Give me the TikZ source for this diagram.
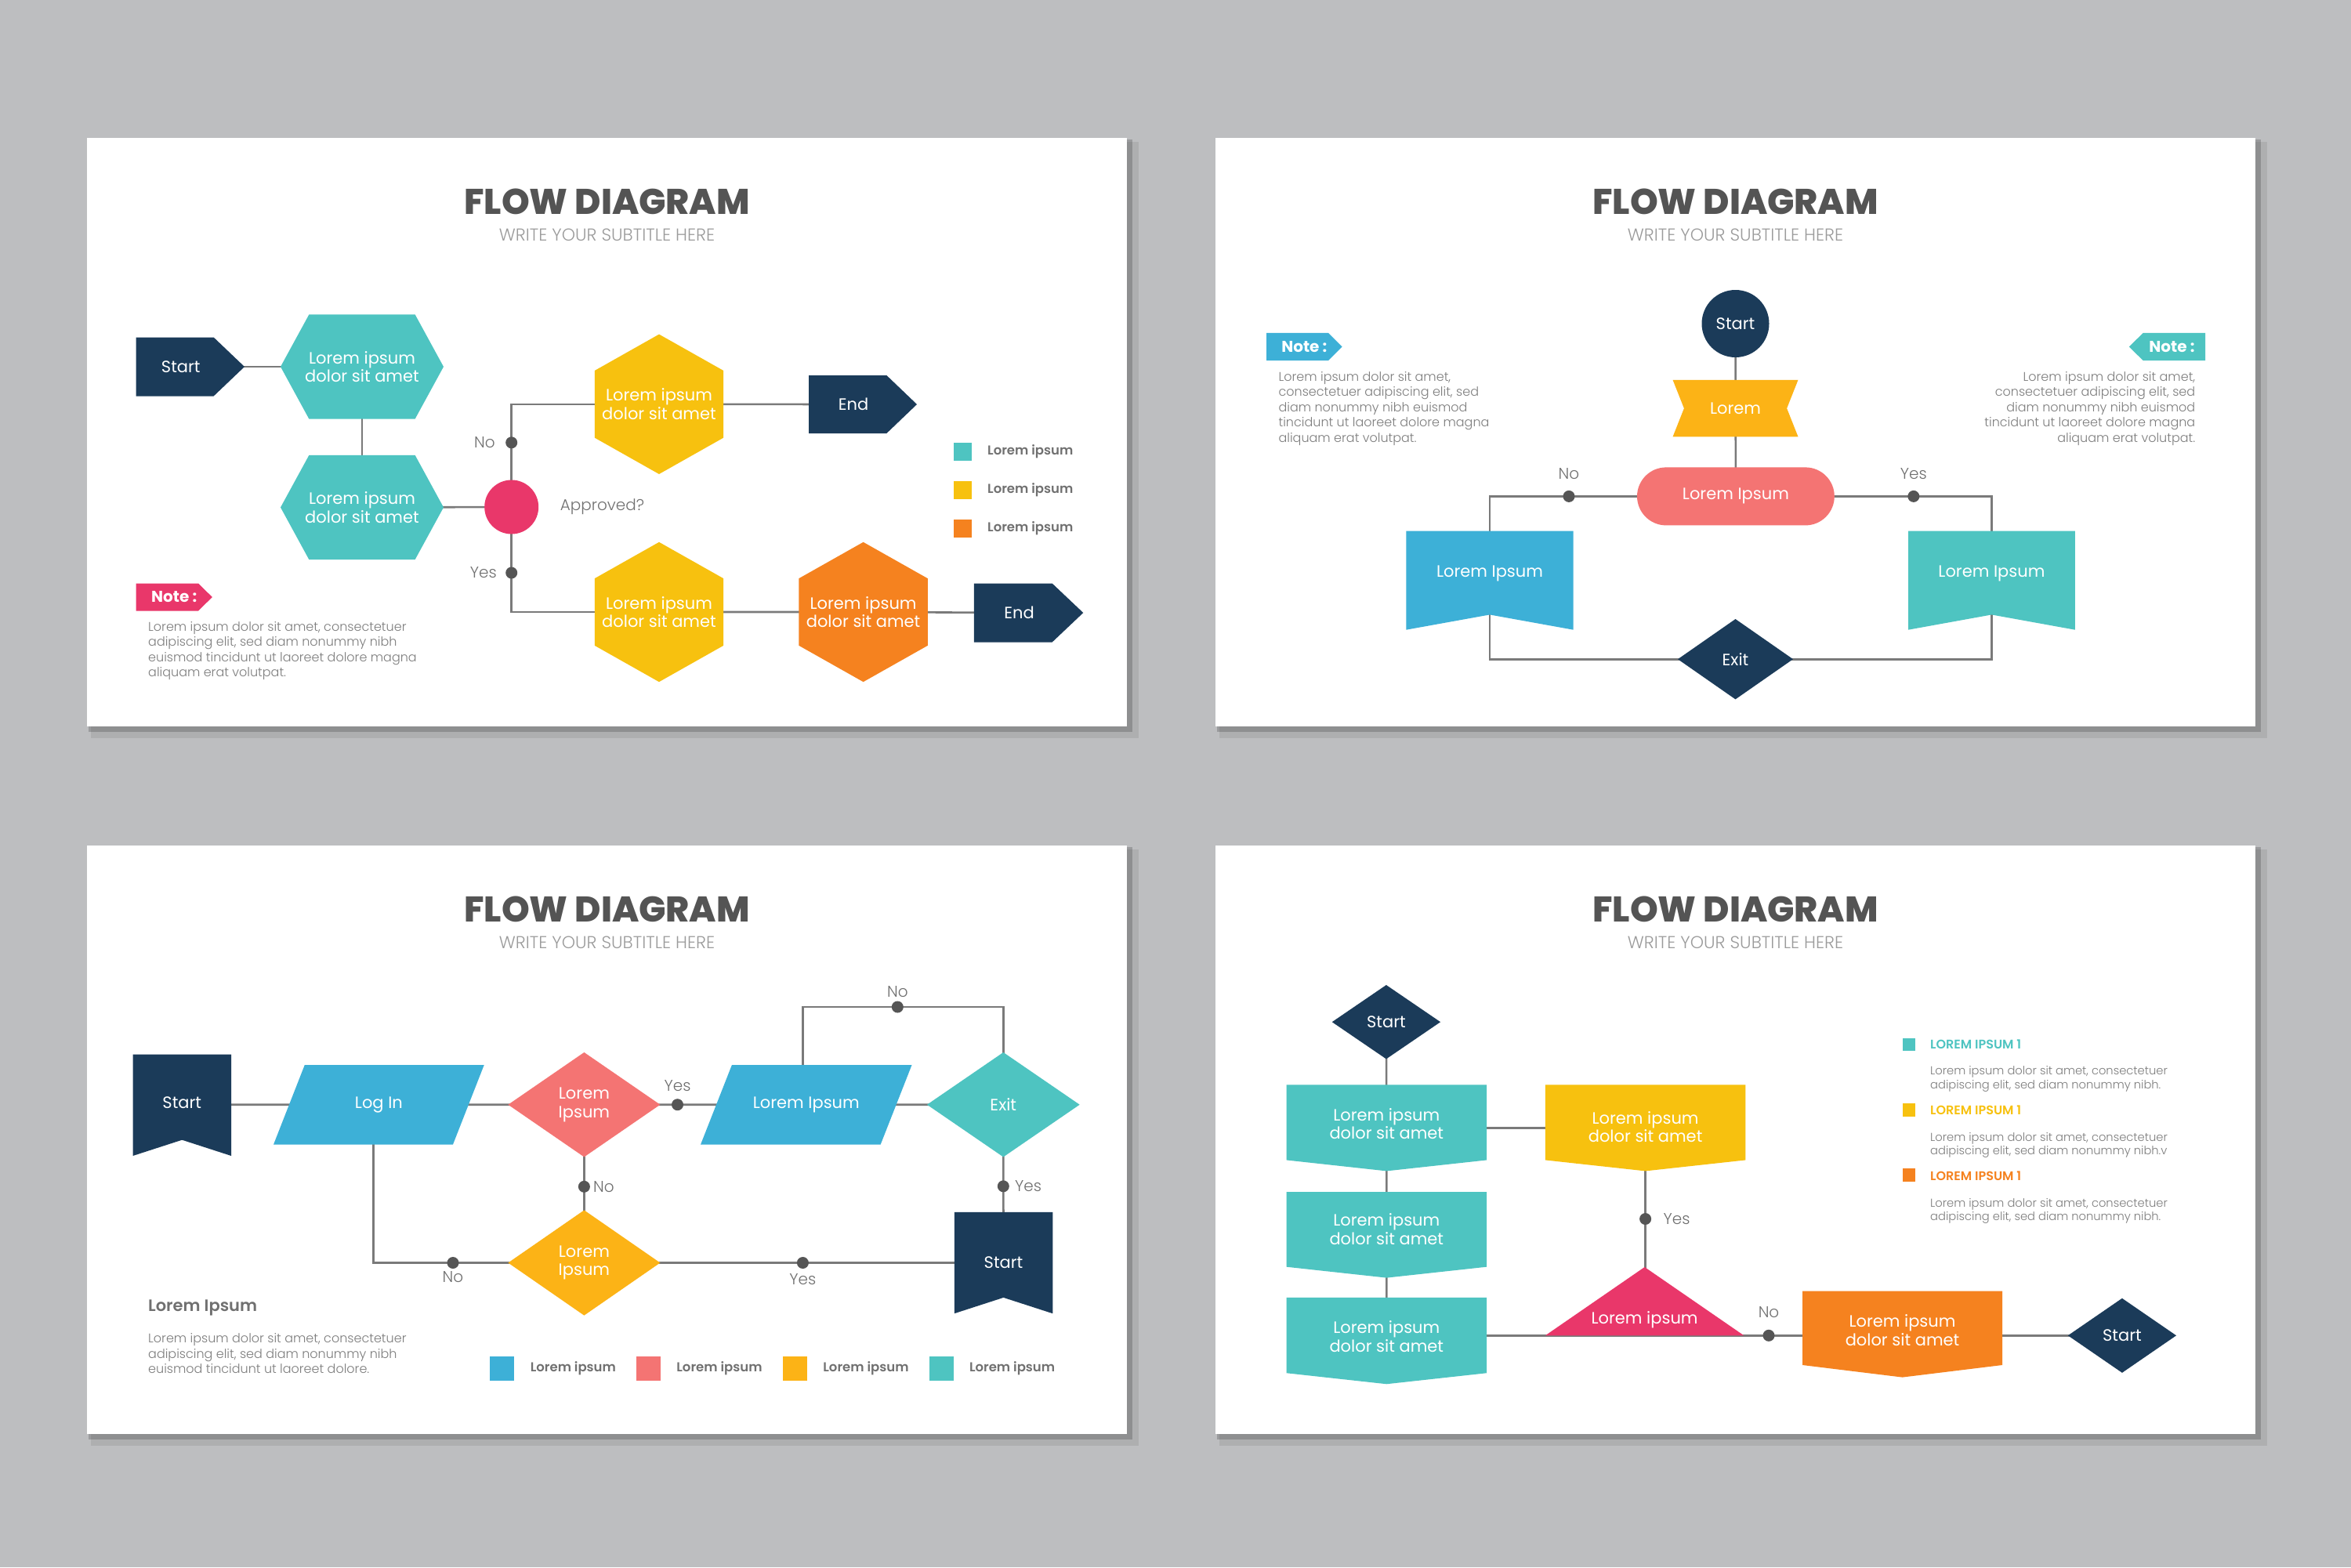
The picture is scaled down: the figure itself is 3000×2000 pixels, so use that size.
\documentclass[tikz,border=0pt]{standalone}
\usepackage{fontspec}
\setmainfont{Poppins}
\newfontfamily\pLight{Poppins Light}
\newfontfamily\pSemi{Poppins SemiBold}
\newfontfamily\pXB{Poppins ExtraBold}
\usetikzlibrary{calc}
\definecolor{cBg}{HTML}{BDBEC0}
\definecolor{cNavy}{HTML}{1B3B59}
\definecolor{cTeal}{HTML}{4EC4C1}
\definecolor{cYel}{HTML}{F7C10F}
\definecolor{cYelB}{HTML}{FCB316}
\definecolor{cOrng}{HTML}{F5821F}
\definecolor{cPink}{HTML}{E9376A}
\definecolor{cSalm}{HTML}{F47473}
\definecolor{cBlue}{HTML}{3DB0D7}
\definecolor{cLine}{HTML}{7A7A7A}
\definecolor{cDot}{HTML}{555555}
\definecolor{cTitle}{HTML}{545454}
\definecolor{cSub}{HTML}{9B9B9B}
\definecolor{cTxt}{HTML}{7D7D7D}
\definecolor{cLbl}{HTML}{707070}
\pgfdeclarelayer{back}
\pgfdeclarelayer{lines}
\pgfsetlayers{back,lines,main}
\newcommand\pbcorners{%
 \coordinate (nw) at (path picture bounding box.north west);
 \coordinate (ne) at (path picture bounding box.north east);
 \coordinate (sw) at (path picture bounding box.south west);
 \coordinate (se) at (path picture bounding box.south east);
 \coordinate (nn) at (path picture bounding box.north);
 \coordinate (ss) at (path picture bounding box.south);
 \coordinate (ee) at (path picture bounding box.east);
 \coordinate (ww) at (path picture bounding box.west);}
\newcommand\lift[2]{\raisebox{#1}[\height][\depth]{#2}}
\newcommand\twol[3]{\lift{#1}{\begin{tabular}{@{}c@{}}#2\\#3\end{tabular}}}
\tikzset{
 conn/.style={draw=cLine, line width=2.6pt},
 dotn/.style={circle, fill=cDot, inner sep=0pt, minimum size=15pt},
 shp/.style={inner sep=0pt, text=white, align=center, font=\fontsize{21}{23.5}\selectfont},
 titlet/.style={anchor=base, inner sep=0pt, text=cTitle, font=\pXB\fontsize{45.5}{50}\selectfont},
 subt/.style={anchor=base, inner sep=0pt, text=cSub, font=\pLight\fontsize{22}{24}\selectfont},
 lbl/.style={inner sep=0pt, text=cLbl, font=\pLight\fontsize{20}{22}\selectfont},
 body/.style={inner sep=0pt, text=cTxt, align=left, font=\pLight\fontsize{16}{19.5}\selectfont},
 legt/.style={inner sep=0pt, anchor=west, text=cLbl, font=\pSemi\fontsize{16.5}{20}\selectfont},
 notet/.style={shp, font=\bfseries\fontsize{20}{22}\selectfont},
 sq/.style={fill=#1, inner sep=0pt},
 hexh/.style 2 args={path picture={\pbcorners\fill[#1] (ww) -- ($(nw)!#2!(ne)$) -- ($(ne)!#2!(nw)$) -- (ee) -- ($(se)!#2!(sw)$) -- ($(sw)!#2!(se)$) -- cycle;}},
 hexv/.style 2 args={path picture={\pbcorners\fill[#1] (nn) -- ($(ne)!#2!(se)$) -- ($(se)!#2!(ne)$) -- (ss) -- ($(sw)!#2!(nw)$) -- ($(nw)!#2!(sw)$) -- cycle;}},
 arrowr/.style 2 args={path picture={\pbcorners\fill[#1] (nw) -- ($(nw)!#2!(ne)$) -- (ee) -- ($(sw)!#2!(se)$) -- (sw) -- cycle;}},
 arrowl/.style 2 args={path picture={\pbcorners\fill[#1] (ww) -- ($(nw)!#2!(ne)$) -- (ne) -- (se) -- ($(sw)!#2!(se)$) -- cycle;}},
 banner/.style 2 args={path picture={\pbcorners\fill[#1] (nw) -- (ne) -- ($(ee)!#2!(ww)$) -- (se) -- (sw) -- ($(ww)!#2!(ee)$) -- cycle;}},
 flagdown/.style 2 args={path picture={\pbcorners\fill[#1] (nw) -- (ne) -- (se) -- ($(nn)!#2!(ss)$) -- (sw) -- cycle;}},
 chevdown/.style 2 args={path picture={\pbcorners\fill[#1] (nw) -- (ne) -- ($(ne)!#2!(se)$) -- (ss) -- ($(nw)!#2!(sw)$) -- cycle;}},
 para/.style 2 args={path picture={\pbcorners\fill[#1] ($(nw)!#2!(ne)$) -- (ne) -- ($(se)!#2!(sw)$) -- (sw) -- cycle;}},
 diam/.style={path picture={\pbcorners\fill[#1] (nn) -- (ee) -- (ss) -- (ww) -- cycle;}},
 tri/.style={path picture={\pbcorners\fill[#1] (nn) -- (se) -- (sw) -- cycle;}},
}
\newcommand\panelframe[1]{%
 \begin{pgfonlayer}{back}
  \fill[black, opacity=.08] (5,5) rectangle (1342,766);
  \fill[black, opacity=.18] (2,2) rectangle (1334,758);
  \fill[white] (0,0) rectangle (1327,751);
 \end{pgfonlayer}
 \node[titlet] (#1-title) at (663.5,97) {FLOW DIAGRAM};
 \node[subt] (#1-sub) at (663.5,131.8) {WRITE YOUR SUBTITLE HERE};}
\begin{document}
\begin{tikzpicture}[x=1pt,y=-1pt]
\useasboundingbox (0,0) rectangle (3000,2000);
\begin{pgfonlayer}{back}
\fill[cBg] (0,0) rectangle (3000,2000);
\end{pgfonlayer}

% ---------------- Panel A ----------------
\begin{scope}[shift={(111,176)}]
\panelframe{a}
\node[shp, arrowr={cNavy}{.716}, minimum width=138.5, minimum height=75] (a-start) at (131.75,292) {\hspace*{-24pt}Start};
\node[shp, hexh={cTeal}{.175}, minimum width=208, minimum height=133.4] (a-h1) at (351,292) {Lorem ipsum\\dolor sit amet};
\node[shp, hexh={cTeal}{.175}, minimum width=208, minimum height=133.4] (a-h2) at (351,471.5) {Lorem ipsum\\dolor sit amet};
\node[circle, fill=cPink, minimum size=69, inner sep=0pt] (a-q) at (541.7,471) {};
\node[lbl, anchor=west] (a-appr) at (603.6,471) {Approved?};
\node[shp, hexv={cYel}{.26}, minimum width=164.4, minimum height=178.4] (a-y1) at (730,339.8) {Lorem ipsum\\dolor sit amet};
\node[shp, hexv={cYel}{.26}, minimum width=164.4, minimum height=178.4] (a-y2) at (730,605) {Lorem ipsum\\dolor sit amet};
\node[shp, hexv={cOrng}{.26}, minimum width=164.4, minimum height=178.4] (a-o) at (990.6,605) {Lorem ipsum\\dolor sit amet};
\node[shp, arrowr={cNavy}{.72}, minimum width=138, minimum height=74] (a-end1) at (990,340) {\hspace*{-24pt}End};
\node[shp, arrowr={cNavy}{.716}, minimum width=139.5, minimum height=75] (a-end2) at (1201.5,606) {\hspace*{-24pt}End};
\begin{pgfonlayer}{lines}
\draw[conn] (a-start.center) -- (a-h1.center);
\draw[conn] (a-h1.center) -- (a-h2.center);
\draw[conn] (a-h2.center) -- (a-q.center);
\draw[conn] (a-q.center) |- (a-y1.center);
\draw[conn] (a-q.center) |- (a-y2.center);
\draw[conn] (a-y1.center) -- (a-end1.center);
\draw[conn] (a-y2.center) -- (a-o.center) -- (a-end2.center);
\end{pgfonlayer}
\node[dotn] (a-dno) at (541.7,388.8) {};
\node[dotn] (a-dyes) at (541.7,555) {};
\node[lbl, anchor=east] (a-lno) at (521,388.8) {No};
\node[lbl, anchor=east] (a-lyes) at (523,555) {Yes};
\node[sq=cTeal, minimum size=23.5] (a-k1) at (1117.7,400.6) {};
\node[sq=cYel, minimum size=23.5] (a-k2) at (1117.7,449.6) {};
\node[sq=cOrng, minimum size=23.5] (a-k3) at (1117.7,498.6) {};
\node[legt] (a-k1t) at (1149,400.6) {Lorem ipsum};
\node[legt] (a-k2t) at (1149,449.6) {Lorem ipsum};
\node[legt] (a-k3t) at (1149,498.6) {Lorem ipsum};
\node[notet, arrowr={cPink}{.817}, minimum width=97.3, minimum height=35] (a-note) at (111.2,586) {Note :};
\node[body, anchor=north west] (a-notet) at (78,617) {Lorem ipsum dolor sit amet, consectetuer\\adipiscing elit, sed diam nonummy nibh\\euismod tincidunt ut laoreet dolore magna\\aliquam erat volutpat.};
\end{scope}

% ---------------- Panel B ----------------
\begin{scope}[shift={(1551,176)}]
\panelframe{b}
\node[shp, circle, fill=cNavy, minimum size=86] (b-start) at (663.5,237) {Start};
\node[shp, banner={cYelB}{.09}, minimum width=160, minimum height=72.7] (b-ban) at (663.5,345.1) {Lorem};
\node[shp, fill=cSalm, rounded corners=37, minimum width=251.8, minimum height=74] (b-pill) at (663.9,457.4) {Lorem Ipsum};
\node[shp, flagdown={cBlue}{.847}, minimum width=213.4, minimum height=126] (b-L) at (350,564.7) {\lift{9pt}{Lorem Ipsum}};
\node[shp, flagdown={cTeal}{.847}, minimum width=212.8, minimum height=126] (b-R) at (990.4,564.7) {\lift{9pt}{Lorem Ipsum}};
\node[shp, diam={cNavy}, minimum width=147, minimum height=102.4] (b-exit) at (663.5,665.2) {Exit};
\begin{pgfonlayer}{lines}
\draw[conn] (b-start.center) -- (b-pill.center);
\draw[conn] (b-pill.center) -| (b-L.center);
\draw[conn] (b-pill.center) -| (b-R.center);
\draw[conn] (b-L.center) |- (b-exit.center);
\draw[conn] (b-R.center) |- (b-exit.center);
\end{pgfonlayer}
\node[dotn] (b-dno) at (451,457.4) {};
\node[dotn] (b-dyes) at (890.8,457.4) {};
\node[lbl] (b-lno) at (451,428.5) {No};
\node[lbl] (b-lyes) at (890.8,428.5) {Yes};
\node[notet, arrowr={cBlue}{.817}, minimum width=96.6, minimum height=35.3] (b-note1) at (113.3,266.5) {Note :};
\node[body, anchor=north west] (b-note1t) at (80.4,298) {Lorem ipsum dolor sit amet,\\consectetuer adipiscing elit, sed\\diam nonummy nibh euismod\\tincidunt ut laoreet dolore magna\\aliquam erat volutpat.};
\node[notet, arrowl={cTeal}{.185}, minimum width=97.3, minimum height=35.3] (b-note2) at (1214.4,266.5) {\hspace*{12pt}Note :};
\node[body, anchor=north east, align=right] (b-note2t) at (1250.4,298) {Lorem ipsum dolor sit amet,\\consectetuer adipiscing elit, sed\\diam nonummy nibh euismod\\tincidunt ut laoreet dolore magna\\aliquam erat volutpat.};
\end{scope}

% ---------------- Panel C ----------------
\begin{scope}[shift={(111,1079)}]
\panelframe{c}
\node[shp, flagdown={cNavy}{.843}, minimum width=125.5, minimum height=129.4] (c-start) at (121.3,331.3) {\lift{3pt}{Start}};
\node[shp, para={cBlue}{.148}, minimum width=268.7, minimum height=101.5] (c-login) at (372.4,330.75) {Log In};
\node[shp, diam={cSalm}, minimum width=194, minimum height=133.5] (c-red) at (634.4,330.7) {Lorem\\Ipsum};
\node[shp, diam={cYelB}, minimum width=194, minimum height=134.3] (c-yel) at (634.4,532.5) {Lorem\\Ipsum};
\node[shp, para={cBlue}{.148}, minimum width=269.5, minimum height=101.5] (c-para) at (917.8,330.75) {Lorem Ipsum};
\node[shp, diam={cTeal}, minimum width=194.7, minimum height=133.5] (c-exit) at (1169.3,330.7) {Exit};
\node[shp, flagdown={cNavy}{.843}, minimum width=125.5, minimum height=129.4] (c-start2) at (1169.5,532.5) {Start};
\coordinate (c-lg) at (365.2,330.75);
\coordinate (c-lp) at (913.4,206);
\begin{pgfonlayer}{lines}
\draw[conn] (c-start.center |- c-login.center) -- (c-login.center) -- (c-red.center) -- (c-para.center) -- (c-exit.center);
\draw[conn] (c-red.center) -- (c-yel.center) -- (c-start2.center);
\draw[conn] (c-lg) |- (c-yel.center);
\draw[conn] (c-lp |- c-para.center) -- (c-lp) -| (c-exit.center);
\draw[conn] (c-exit.center) -- (c-start2.center);
\end{pgfonlayer}
\node[dotn] (c-d1) at (753.5,330.7) {};
\node[lbl] (c-l1) at (753.5,306.8) {Yes};
\node[dotn] (c-d2) at (634.4,435.3) {};
\node[lbl, anchor=west] (c-l2) at (646,435.3) {No};
\node[dotn] (c-d3) at (467,532.5) {};
\node[lbl] (c-l3) at (467,551) {No};
\node[dotn] (c-d4) at (1034.3,206) {};
\node[lbl] (c-l4) at (1034.3,186.6) {No};
\node[dotn] (c-d5) at (1169.3,434.8) {};
\node[lbl, anchor=west] (c-l5) at (1184,434.8) {Yes};
\node[dotn] (c-d6) at (913.4,532.5) {};
\node[lbl] (c-l6) at (913.4,554) {Yes};
\node[legt, font=\pSemi\fontsize{21}{24}\selectfont] (c-head) at (78,590.4) {Lorem Ipsum};
\node[body, anchor=north west] (c-body) at (78,622.6) {Lorem ipsum dolor sit amet, consectetuer\\adipiscing elit, sed diam nonummy nibh\\euismod tincidunt ut laoreet dolore.};
\node[sq=cBlue, minimum size=31] (c-k1) at (529.9,667.3) {};
\node[sq=cSalm, minimum size=31] (c-k2) at (716.9,667.3) {};
\node[sq=cYelB, minimum size=31] (c-k3) at (903.5,667.3) {};
\node[sq=cTeal, minimum size=31] (c-k4) at (1090.5,667.3) {};
\node[legt] (c-k1t) at (565.6,667.3) {Lorem ipsum};
\node[legt] (c-k2t) at (752.2,667.3) {Lorem ipsum};
\node[legt] (c-k3t) at (939.2,667.3) {Lorem ipsum};
\node[legt] (c-k4t) at (1125.8,667.3) {Lorem ipsum};
\end{scope}

% ---------------- Panel D ----------------
\begin{scope}[shift={(1551,1079)}]
\panelframe{d}
\node[shp, diam={cNavy}, minimum width=138.3, minimum height=94.4] (d-start) at (217.9,225.2) {Start};
\node[shp, chevdown={cTeal}{.873}, minimum width=255.4, minimum height=110] (d-b1) at (218.3,360.4) {\twol{2pt}{Lorem ipsum}{dolor sit amet}};
\node[shp, chevdown={cTeal}{.873}, minimum width=255.4, minimum height=109.6] (d-b2) at (218.3,496.8) {\twol{4pt}{Lorem ipsum}{dolor sit amet}};
\node[shp, chevdown={cTeal}{.873}, minimum width=255.4, minimum height=110.5] (d-b3) at (218.3,632) {\twol{2pt}{Lorem ipsum}{dolor sit amet}};
\node[shp, chevdown={cYel}{.873}, minimum width=255.3, minimum height=110] (d-y) at (548.6,360.4) {\twol{-2pt}{Lorem ipsum}{dolor sit amet}};
\node[shp, tri={cPink}, minimum width=253.3, minimum height=87.3] (d-tri) at (547.6,581.6) {\lift{-24pt}{Lorem ipsum}};
\node[shp, chevdown={cOrng}{.858}, minimum width=255, minimum height=110] (d-o) at (876.5,623.6) {\twol{2pt}{Lorem ipsum}{dolor sit amet}};
\node[shp, diam={cNavy}, minimum width=138.2, minimum height=95] (d-s2) at (1156.9,625.3) {Start};
\begin{pgfonlayer}{lines}
\draw[conn] (d-start.center) -- (d-b1.center) -- (d-b2.center) -- (d-b3.center);
\draw[conn] (d-b1.center) -- (d-y.center);
\draw[conn] (d-y.center) -- (d-y.center |- d-tri.center);
\draw[conn] (d-tri.south -| d-b3.center) -- (d-s2.center |- d-tri.south);
\end{pgfonlayer}
\node[dotn] (d-d1) at (548.6,476.5) {};
\node[lbl, anchor=west] (d-l1) at (571.4,476.5) {Yes};
\node[dotn] (d-d2) at (706,625.3) {};
\node[lbl] (d-l2) at (706,595.3) {No};
\node[sq=cTeal, minimum size=16.3] (d-k1) at (884.9,254) {};
\node[sq=cYel, minimum size=16.3] (d-k2) at (884.9,337.5) {};
\node[sq=cOrng, minimum size=16.3] (d-k3) at (884.9,420.5) {};
\node[legt, text=cTeal, font=\pSemi\fontsize{16}{18}\selectfont] (d-k1t) at (912,253.5) {LOREM IPSUM 1};
\node[legt, text=cYel, font=\pSemi\fontsize{16}{18}\selectfont] (d-k2t) at (912,338) {LOREM IPSUM 1};
\node[legt, text=cOrng, font=\pSemi\fontsize{16}{18}\selectfont] (d-k3t) at (912,421.7) {LOREM IPSUM 1};
\node[body, anchor=north west, font=\pLight\fontsize{14.7}{17.5}\selectfont] (d-k1b) at (912,281.7) {Lorem ipsum dolor sit amet, consectetuer\\adipiscing elit, sed diam nonummy nibh.};
\node[body, anchor=north west, font=\pLight\fontsize{14.7}{17.5}\selectfont] (d-k2b) at (912,366) {Lorem ipsum dolor sit amet, consectetuer\\adipiscing elit, sed diam nonummy nibh.v};
\node[body, anchor=north west, font=\pLight\fontsize{14.7}{17.5}\selectfont] (d-k3b) at (912,450) {Lorem ipsum dolor sit amet, consectetuer\\adipiscing elit, sed diam nonummy nibh.};
\end{scope}
\end{tikzpicture}
\end{document}
